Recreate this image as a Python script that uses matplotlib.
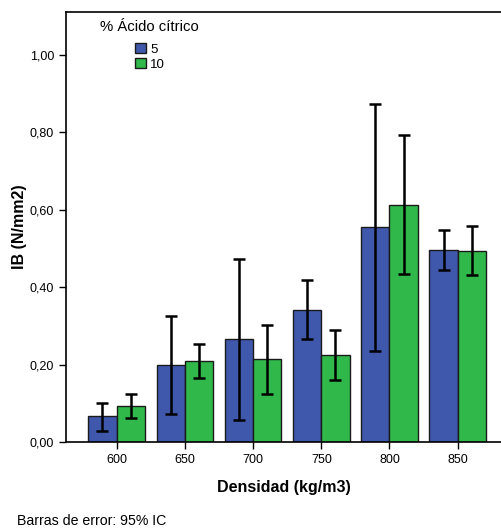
import numpy as np
import matplotlib
matplotlib.use("Agg")
import matplotlib.pyplot as plt

plt.rcParams['font.family'] = ['Liberation Sans', 'DejaVu Sans']

# Datos (media e IC 95%)
densidades = ['600', '650', '700', '750', '800', '850']
media_5 = [0.066, 0.199, 0.266, 0.341, 0.555, 0.496]
ic_inf_5 = [0.029, 0.071, 0.058, 0.266, 0.236, 0.443]
ic_sup_5 = [0.100, 0.325, 0.473, 0.417, 0.872, 0.547]
media_10 = [0.094, 0.209, 0.214, 0.224, 0.612, 0.494]
ic_inf_10 = [0.061, 0.165, 0.125, 0.160, 0.433, 0.430]
ic_sup_10 = [0.124, 0.253, 0.302, 0.288, 0.792, 0.558]

color_5 = '#3f58ab'
color_10 = '#30b84a'

fig = plt.figure(figsize=(5.01, 5.31), dpi=100)
ax = fig.add_axes([66 / 501, 89 / 531, 1 - 66 / 501, 430 / 531])

x = np.arange(len(densidades))
w = 0.416

m5 = np.array(media_5)
m10 = np.array(media_10)
err5 = [m5 - np.array(ic_inf_5), np.array(ic_sup_5) - m5]
err10 = [m10 - np.array(ic_inf_10), np.array(ic_sup_10) - m10]

b1 = ax.bar(x - w / 2, m5, w, color=color_5, edgecolor='#1a1a1a', linewidth=1.0, label='5', zorder=2)
b2 = ax.bar(x + w / 2, m10, w, color=color_10, edgecolor='#1a1a1a', linewidth=1.0, label='10', zorder=2)
ax.errorbar(x - w / 2, m5, yerr=err5, fmt='none', ecolor='black', elinewidth=1.8, capsize=4, capthick=1.8, zorder=3)
ax.errorbar(x + w / 2, m10, yerr=err10, fmt='none', ecolor='black', elinewidth=1.8, capsize=4, capthick=1.8, zorder=3)

ax.set_xlim(-0.743, 5.635)
ax.set_ylim(0, 1.11)
ax.set_xticks(x)
ax.set_xticklabels(densidades, fontsize=9)
ax.set_yticks([0, 0.2, 0.4, 0.6, 0.8, 1.0])
ax.set_yticklabels(['0,00', '0,20', '0,40', '0,60', '0,80', '1,00'], fontsize=9)
ax.tick_params(axis='both', length=5, width=1, direction='out', color='black')

for s in ['left', 'bottom', 'top']:
    ax.spines[s].set_linewidth(1.2)
ax.spines['right'].set_visible(False)

ax.set_xlabel('Densidad (kg/m3)', fontsize=11.5, fontweight='bold', labelpad=10)
ax.set_ylabel('IB (N/mm2)', fontsize=11.5, fontweight='bold', labelpad=2)

# Leyenda: título aparte y cajitas de color
fig.text(100 / 501, 1 - 27 / 531, '% Ácido cítrico', fontsize=10.7, va='center', ha='left')
leg = ax.legend(handles=[b1, b2], loc='upper left',
                bbox_to_anchor=(135 / 501, 1 - 43 / 531), bbox_transform=fig.transFigure,
                frameon=False, fontsize=9.5, handlelength=0.8,
                handleheight=0.8, handletextpad=0.35, labelspacing=0.2, borderpad=0,
                borderaxespad=0)

fig.text(17 / 501, 1 - 521 / 531, 'Barras de error: 95% IC', fontsize=10.2, va='center', ha='left')

fig.savefig('out.png', dpi=100)
